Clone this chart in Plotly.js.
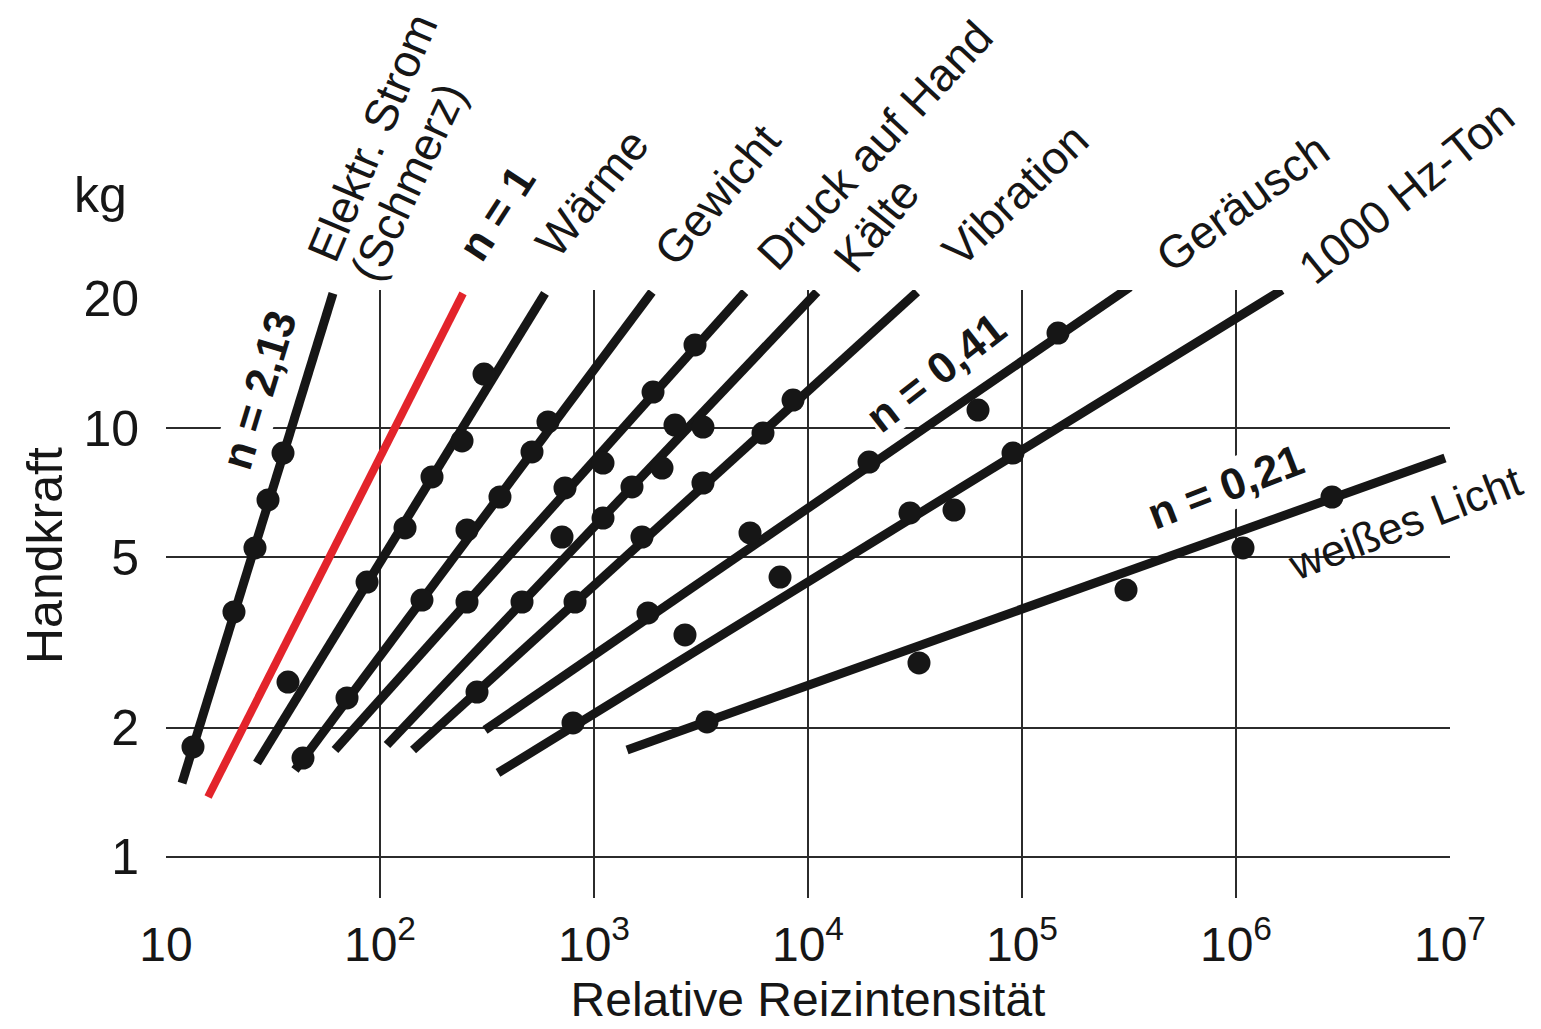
<!DOCTYPE html>
<html><head><meta charset="utf-8">
<script src="https://cdn.plot.ly/plotly-3.0.1.min.js"></script>
<style>html,body{margin:0;padding:0;background:#fff;}#chart{width:1541px;height:1029px;}</style>
</head><body><div id="chart"></div>
<script>
// ---------- data ----------
const xTickVals = [10, 1e2, 1e3, 1e4, 1e5, 1e6, 1e7];
const xTickText = ['10', '10<sup>2</sup>', '10<sup>3</sup>', '10<sup>4</sup>', '10<sup>5</sup>', '10<sup>6</sup>', '10<sup>7</sup>'];
const xGridVals = [1e2, 1e3, 1e4, 1e5, 1e6];
const yTickVals = [1, 2, 5, 10, 20];
const yTickText = ['1', '2', '5', '10', '20'];
const yGridVals = [1, 2, 5, 10];

const seriesNames = ['Elektr. Strom (Schmerz)', 'n = 1', 'Wärme', 'Gewicht', 'Druck auf Hand', 'Kälte', 'Vibration', 'Geräusch', '1000 Hz-Ton', 'weißes Licht'];

const elektrLineX = [11.88, 60.3];      const elektrLineY = [1.487, 20.6];
const elektrDotX = [13.37, 20.78, 26.05, 29.97, 35.22];
const elektrDotY = [1.805, 3.725, 5.252, 6.795, 8.744];

const refLineX = [15.72, 244.3];        const refLineY = [1.380, 20.6];

const waermeLineX = [26.62, 590.2];     const waermeLineY = [1.656, 20.6];
const waermeDotX = [37.16, 86.98, 130.9, 175.0, 241.7, 306.2];
const waermeDotY = [2.558, 4.375, 5.848, 7.688, 9.327, 13.36];

const gewichtLineX = [40.07, 1866];     const gewichtLineY = [1.595, 20.75];
const gewichtDotX = [43.67, 70.13, 157.1, 255.0, 363.6, 513.2, 609.5];
const gewichtDotY = [1.701, 2.348, 3.972, 5.785, 6.905, 8.792, 10.33];

const druckLineX = [61.6, 5076];        const druckLineY = [1.776, 20.75];
const druckDotX = [255.0, 731.9, 1102, 1887, 2965];
const druckDotY = [3.930, 7.248, 8.286, 12.13, 15.62];

const kaelteLineX = [107.8, 11020];     const kaelteLineY = [1.824, 20.75];
const kaelteDotX = [460.9, 708.7, 1102, 1505, 2079, 2390, 3230];
const kaelteDotY = [3.930, 5.571, 6.168, 7.287, 8.067, 10.16, 10.05];

const vibLineX = [142.7, 32310];        const vibLineY = [1.776, 20.75];
const vibDotX = [284.0, 815.3, 1676, 3230, 6162, 8511];
const vibDotY = [2.424, 3.930, 5.571, 7.444, 9.735, 11.62];

const geraeuschLineX = [309.6, 319600]; const geraeuschLineY = [1.977, 21.32];
const geraeuschDotX = [1788, 5358, 19280, 62290, 147300];
const geraeuschDotY = [3.706, 5.692, 8.330, 11.01, 16.65];

const tonLineX = [355.9, 1641000];      const tonLineY = [1.570, 20.98];
const tonDotX = [797.9, 2662, 7401, 29960, 48110, 90760];
const tonDotY = [2.053, 3.293, 4.494, 6.337, 6.439, 8.744];

const lichtLineX = [1427, 9476000];     const lichtLineY = [1.776, 8.513];
const lichtDotX = [3373, 33010, 306200, 1078000, 2810000];
const lichtDotY = [2.064, 2.834, 4.194, 5.252, 6.905];

// ---------- build ----------
const INK = '#161616';
const RED = '#e3242b';
const FONT = 'Liberation Sans, Arial, Helvetica, sans-serif';

const lineSets = [
  [seriesNames[0], elektrLineX, elektrLineY, elektrDotX, elektrDotY],
  [seriesNames[2], waermeLineX, waermeLineY, waermeDotX, waermeDotY],
  [seriesNames[3], gewichtLineX, gewichtLineY, gewichtDotX, gewichtDotY],
  [seriesNames[4], druckLineX, druckLineY, druckDotX, druckDotY],
  [seriesNames[5], kaelteLineX, kaelteLineY, kaelteDotX, kaelteDotY],
  [seriesNames[6], vibLineX, vibLineY, vibDotX, vibDotY],
  [seriesNames[7], geraeuschLineX, geraeuschLineY, geraeuschDotX, geraeuschDotY],
  [seriesNames[8], tonLineX, tonLineY, tonDotX, tonDotY],
  [seriesNames[9], lichtLineX, lichtLineY, lichtDotX, lichtDotY]
];

const traces = [];
// grid-only overlay subplot
traces.push({x: [], y: [], xaxis: 'x2', yaxis: 'y2', type: 'scatter', mode: 'markers', showlegend: false, hoverinfo: 'skip'});
traces.push({x: refLineX, y: refLineY, type: 'scatter', mode: 'lines', name: seriesNames[1],
  line: {color: RED, width: 8}, cliponaxis: false, showlegend: false});
lineSets.forEach(s => {
  traces.push({x: s[1], y: s[2], type: 'scatter', mode: 'lines', name: s[0],
    line: {color: INK, width: 9}, cliponaxis: false, showlegend: false});
});
lineSets.forEach(s => {
  traces.push({x: s[3], y: s[4], type: 'scatter', mode: 'markers', name: s[0],
    marker: {color: INK, size: 23}, cliponaxis: false, showlegend: false});
});

// layout geometry (pixels) for annotation placement
const L = 166, R = 91, T = 290, B = 131, W = 1541, H = 1029;
const PW = W - L - R, PH = H - T - B;
const px = v => (v - L) / PW;
const py = v => (H - B - v) / PH;

function lab(text, cx, cy, ang, size, bold, bg) {
  return {text: bold ? '<b>' + text + '</b>' : text, x: px(cx), y: py(cy), xref: 'paper', yref: 'paper',
    showarrow: false, textangle: ang, xanchor: 'center', yanchor: 'middle',
    font: {family: FONT, size: size, color: INK}, bgcolor: bg ? '#ffffff' : 'rgba(0,0,0,0)', borderpad: 0};
}

const annotations = [
  lab('Elektr. Strom', 372, 138, -67, 46),
  lab('(Schmerz)', 408, 182, -65, 46),
  lab('n = 1', 497, 213, -57, 44, true),
  lab('Wärme', 592, 193, -51, 46),
  lab('Gewicht', 717, 195, -50, 46),
  lab('Druck auf Hand', 875, 145, -47, 46),
  lab('Kälte', 876, 225, -51, 46),
  lab('Vibration', 1015, 195, -44, 46),
  lab('Geräusch', 1242, 203, -36, 46),
  lab('1000 Hz-Ton', 1406, 192, -39, 46),
  lab('weißes Licht', 1405, 522, -21, 44),
  lab('n = 0,41', 935, 372, -38, 44, true, true),
  lab('n = 0,21', 1225, 486, -21, 44, true, true),
  lab('n = 2,13', 258, 390, -73, 44, true, true),
  lab('kg', 100, 195, 0, 50),
  lab('Handkraft', 45, 556, -90, 50)
];

const layout = {
  width: W, height: H,
  margin: {l: L, r: R, t: T, b: B, pad: 0},
  paper_bgcolor: '#ffffff', plot_bgcolor: '#ffffff',
  font: {family: FONT, color: INK, size: 48},
  showlegend: false,
  xaxis: {type: 'log', range: [1, 7], tickmode: 'array', tickvals: xTickVals, ticktext: xTickText,
    showgrid: false, zeroline: false, showline: false, ticks: 'outside', ticklen: 4, tickcolor: 'rgba(0,0,0,0)',
    tickfont: {size: 48, family: FONT, color: INK},
    title: {text: 'Relative Reizintensität', font: {size: 48, family: FONT, color: INK}, standoff: 12}},
  yaxis: {type: 'log', range: [-0.0956, 1.3217], tickmode: 'array', tickvals: yTickVals, ticktext: yTickText,
    showgrid: false, zeroline: false, showline: false, ticks: 'outside', ticklen: 16, tickcolor: 'rgba(0,0,0,0)',
    tickfont: {size: 50, family: FONT, color: INK}},
  xaxis2: {type: 'log', range: [1, 7], overlaying: 'x', anchor: 'y2', side: 'bottom', tickmode: 'array', tickvals: xGridVals,
    showticklabels: false, ticks: '', showgrid: true, gridcolor: '#2b2b2b', gridwidth: 2, zeroline: false, showline: false},
  yaxis2: {type: 'log', range: [-0.0956, 1.3217], overlaying: 'y', anchor: 'x2', side: 'left', tickmode: 'array', tickvals: yGridVals,
    showticklabels: false, ticks: '', showgrid: true, gridcolor: '#2b2b2b', gridwidth: 2, zeroline: false, showline: false},
  annotations: annotations
};

Plotly.newPlot('chart', traces, layout, {staticPlot: true, displayModeBar: false});
</script>
</body></html>
